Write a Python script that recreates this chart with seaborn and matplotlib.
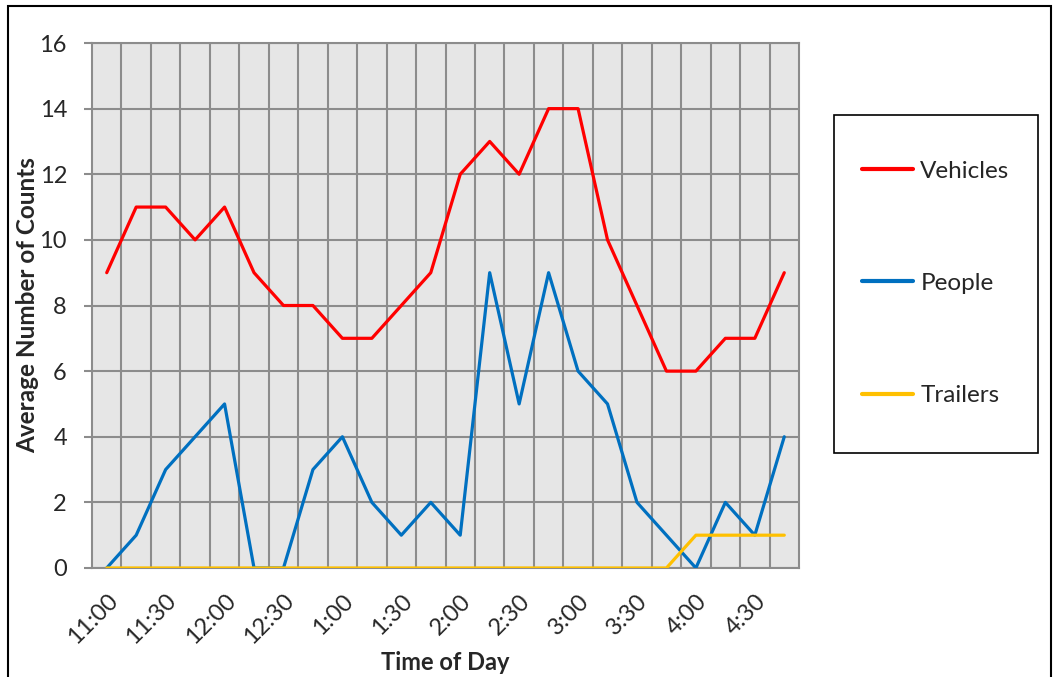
import matplotlib
matplotlib.use("Agg")
import matplotlib.pyplot as plt
from matplotlib.patches import Rectangle
import seaborn as sns
import pandas as pd
import numpy as np

times = ["11:00", "11:15", "11:30", "11:45", "12:00", "12:15", "12:30", "12:45",
         "1:00", "1:15", "1:30", "1:45", "2:00", "2:15", "2:30", "2:45",
         "3:00", "3:15", "3:30", "3:45", "4:00", "4:15", "4:30", "4:45"]
vehicles = [9, 11, 11, 10, 11, 9, 8, 8, 7, 7, 8, 9, 12, 13, 12, 14, 14, 10, 8, 6, 6, 7, 7, 9]
people = [0, 1, 3, 4, 5, 0, 0, 3, 4, 2, 1, 2, 1, 9, 5, 9, 6, 5, 2, 1, 0, 2, 1, 4]
trailers = [0, 0, 0, 0, 0, 0, 0, 0, 0, 0, 0, 0, 0, 0, 0, 0, 0, 0, 0, 0, 1, 1, 1, 1]
series_names = ["Vehicles", "People", "Trailers"]
colors = ["#FF0000", "#0070C0", "#FFC000"]

sns.set_theme(style="white")
plt.rcParams["font.family"] = ["Lato", "DejaVu Sans"]

idx = np.arange(len(times))
df = pd.DataFrame({
    "idx": np.concatenate([idx, idx, idx]),
    "value": vehicles + people + trailers,
    "series": np.repeat(series_names, len(times)),
})

fig = plt.figure(figsize=(10.54, 6.77), dpi=100)
ax = fig.add_axes([92/1054, 1-568/677, (799-92)/1054, (568-43)/677])
ax.set_facecolor("#E6E6E6")

sns.lineplot(data=df, x="idx", y="value", hue="series", hue_order=series_names,
             palette=colors, linewidth=2.3, ax=ax, legend=True, zorder=3)

grid_c = "#8C8C8C"
ax.set_xlim(-0.5, len(times) - 0.5)
ax.set_ylim(0, 16)
ax.set_yticks(np.arange(0, 17, 2))
ax.set_xticks(idx[::2])
ax.set_xticklabels(times[::2], rotation=45, ha="right", rotation_mode="anchor")
ax.set_xticks(idx[:-1] + 0.5, minor=True)
ax.grid(False)
ax.grid(True, axis="y", which="major", color=grid_c, linewidth=1.5, zorder=1)
ax.grid(True, axis="x", which="minor", color=grid_c, linewidth=1.5, zorder=1)
ax.set_axisbelow(True)
for s in ax.spines.values():
    s.set_color(grid_c)
    s.set_linewidth(1.5)
ax.tick_params(axis="y", which="major", length=6, width=1.5, color=grid_c,
               labelsize=17, pad=12, left=True)
ax.tick_params(axis="x", which="both", length=0, labelsize=17, pad=16)

ax.set_xlabel("Time of Day", fontsize=17, fontweight="bold")
ax.set_ylabel("Average Number of Counts", fontsize=17.5, fontweight="bold")
ax.xaxis.set_label_coords(0.5, (568-662)/525)
ax.xaxis.label.set_va("center")
ax.yaxis.set_label_coords((28-92)/707, 0.5)
ax.yaxis.label.set_va("center")

handles, labels = ax.get_legend_handles_labels()
ax.get_legend().remove()
for h in handles:
    h.set_linewidth(3)
fig.legend(handles, labels, loc="center left",
           bbox_to_anchor=(862/1054, 1-283.5/677), frameon=False,
           fontsize=17.5, handlelength=2.1, handletextpad=0.3,
           labelspacing=3.75, borderpad=0, borderaxespad=0)

fig.patches.append(Rectangle((834/1054, 1-453/677), (1038-834)/1054, (453-115)/677,
                             transform=fig.transFigure, fill=False,
                             edgecolor="black", linewidth=1.2))
fig.patches.append(Rectangle((8/1054, -0.02), (1051-8)/1054, 1.02-6/677,
                             transform=fig.transFigure, fill=False,
                             edgecolor="black", linewidth=1.5))

fig.savefig("out.png", dpi=100)
